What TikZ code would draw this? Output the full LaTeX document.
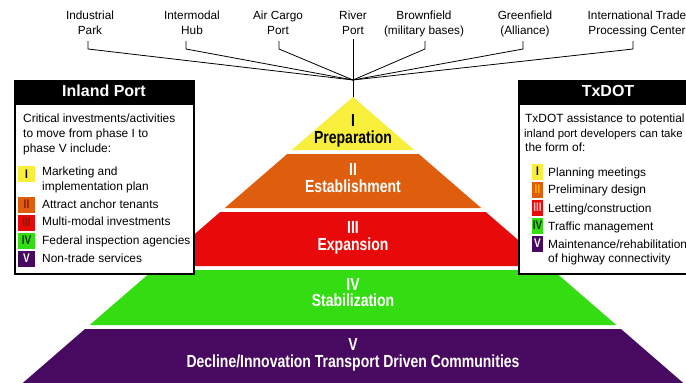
\documentclass[tikz,border=0pt]{standalone}
\usepackage{fontspec}
\setmainfont{Liberation Sans}
\newfontfamily\condbf{Liberation Sans}[FakeStretch=0.8]
\definecolor{pyel}{HTML}{F8EE3C}
\definecolor{pora}{HTML}{DE5E0E}
\definecolor{pred}{HTML}{E80A0A}
\definecolor{pgrn}{HTML}{34DC12}
\definecolor{ppur}{HTML}{480A60}
\definecolor{dkred}{HTML}{8A1800}
\begin{document}
\begin{tikzpicture}[x=1pt,y=-1pt,
  lbl/.style={font=\fontsize{11.8}{14}\selectfont, inner sep=0, anchor=mid},
  body/.style={font=\fontsize{11.9}{14}\selectfont, inner sep=0, anchor=mid west},
  hdr/.style={font=\fontsize{16}{18}\selectfont\bfseries, text=white, inner sep=0, anchor=mid},
  lvl/.style={font=\condbf\bfseries\fontsize{17.5}{19}\selectfont, inner sep=0, anchor=mid, text=white},
  ibadge/.style={minimum width=17pt, minimum height=16pt, inner sep=0, font=\condbf\bfseries\fontsize{12.5}{13}\selectfont},
  tbadge/.style={minimum width=11pt, minimum height=16pt, inner sep=0, font=\condbf\bfseries\fontsize{12.5}{13}\selectfont},
  conn/.style={draw=black, line width=0.8pt},
  boxframe/.style={draw=black, line width=1.5pt, fill=white, inner sep=0, anchor=north west},
  boxhead/.style={fill=black, inner sep=0, anchor=north west}
]
\useasboundingbox (0,0) rectangle (686,383);
\fill[white] (0,0) rectangle (686,383);
\clip (0,0) rectangle (686,383);

% pyramid layers
\fill[pyel] (353,97) -- (414.2,150) -- (291.8,150) -- cycle;
\fill[pora] (287.2,154) -- (418.8,154) -- (481.2,208) -- (224.8,208) -- cycle;
\fill[pred] (220.2,212) -- (485.8,212) -- (548.2,266) -- (157.8,266) -- cycle;
\fill[pgrn] (153.2,270) -- (552.8,270) -- (616.3,325) -- (89.7,325) -- cycle;
\fill[ppur] (85,329) -- (621,329) -- (683.3,383) -- (22.7,383) -- cycle;

\node[lvl, text=black] (l1a) at (353,124) {I};
\node[lvl, text=black] (l1b) at (353,141) {Preparation};
\node[lvl] (l2a) at (353,173) {II};
\node[lvl] (l2b) at (353,189.5) {Establishment};
\node[lvl] (l3a) at (353,231) {III};
\node[lvl] (l3b) at (353,248) {Expansion};
\node[lvl] (l4a) at (353,288) {IV};
\node[lvl] (l4b) at (353,304) {Stabilization};
\node[lvl] (l5a) at (353,348) {V};
\node[lvl] (l5b) at (353,365) {Decline/Innovation Transport Driven Communities};

% top labels
\node[lbl] (ind1) at (90,17) {Industrial};
\node[lbl] (ind2) at (90,32) {Park};
\node[lbl] (hub1) at (192,17) {Intermodal};
\node[lbl] (hub2) at (192,32) {Hub};
\node[lbl] (air1) at (278,17) {Air Cargo};
\node[lbl] (air2) at (278,32) {Port};
\node[lbl] (riv1) at (353,17) {River};
\node[lbl] (riv2) at (353,32) {Port};
\node[lbl] (brn1) at (424,17) {Brownfield};
\node[lbl] (brn2) at (424,32) {(military bases)};
\node[lbl] (grn1) at (525,17) {Greenfield};
\node[lbl] (grn2) at (525,32) {(Alliance)};
\node[lbl] (itp1) at (637,17) {International Trade};
\node[lbl] (itp2) at (637,32) {Processing Center};

\coordinate (meet) at (353,80);
\coordinate (apex) at (353,97);
\coordinate (tk1) at (88,41);
\coordinate (tk2) at (186,41);
\coordinate (tk3) at (279,41);
\coordinate (tk4) at (353,39);
\coordinate (tk5) at (425,41);
\coordinate (tk6) at (523,41);
\coordinate (tk7) at (633,41);
\draw[conn] (tk1) -- ++(0,8) -- (meet);
\draw[conn] (tk2) -- ++(0,8) -- (meet);
\draw[conn] (tk3) -- ++(0,8) -- (meet);
\draw[conn] (tk4) -- (apex);
\draw[conn] (tk5) -- ++(0,8) -- (meet);
\draw[conn] (tk6) -- ++(0,8) -- (meet);
\draw[conn] (tk7) -- ++(0,8) -- (meet);

% Inland Port box
\node[boxframe, minimum width=179pt, minimum height=193pt] (ipbox) at (14,80) {};
\node[boxhead, minimum width=179pt, minimum height=25pt] (iphead) at (14,80) {};
\node[hdr] (iptitle) at (104,93.5) {Inland Port};
\node[body] (ipt1) at (23,120) {Critical investments/activities};
\node[body] (ipt2) at (23,135) {to move from phase I to};
\node[body] (ipt3) at (23,150) {phase V include:};
\node[ibadge, fill=pyel, text=black] (ipb1) at (26.5,174) {I};
\node[ibadge, fill=pora, text=dkred] (ipb2) at (26.5,204.5) {II};
\node[ibadge, fill=pred, text=dkred] (ipb3) at (26.5,222.5) {III};
\node[ibadge, fill=pgrn, text=black!80!green] (ipb4) at (26.5,240.5) {IV};
\node[ibadge, fill=ppur, text=white] (ipb5) at (26.5,258.5) {V};
\node[body] (ipi1a) at (42,173) {Marketing and};
\node[body] (ipi1b) at (42,188) {implementation plan};
\node[body] (ipi2) at (42,206) {Attract anchor tenants};
\node[body] (ipi3) at (42,223) {Multi-modal investments};
\node[body] (ipi4) at (42,242) {Federal inspection agencies};
\node[body] (ipi5) at (42,260) {Non-trade services};

% TxDOT box
\node[boxframe, minimum width=182pt, minimum height=193pt] (txbox) at (518,80) {};
\node[boxhead, minimum width=182pt, minimum height=25pt] (txhead) at (518,80) {};
\node[hdr] (txtitle) at (608,93.5) {TxDOT};
\node[body] (txt1) at (525,120) {TxDOT assistance to potential};
\node[body, font=\fontsize{11.4}{14}\selectfont] (txt2) at (524,135) {inland port developers can take};
\node[body] (txt3) at (525,149) {the form of:};
\node[tbadge, fill=pyel, text=black] (txb1) at (537.5,171.5) {I};
\node[tbadge, fill=pora, text=orange!60!yellow] (txb2) at (537.5,189.5) {II};
\node[tbadge, fill=pred, text=pink] (txb3) at (537.5,207.5) {III};
\node[tbadge, fill=pgrn, text=black!80!green] (txb4) at (537.5,225.5) {IV};
\node[tbadge, fill=ppur, text=white] (txb5) at (537.5,243.5) {V};
\node[body] (txi1) at (548,174) {Planning meetings};
\node[body] (txi2) at (548,191) {Preliminary design};
\node[body] (txi3) at (548,210) {Letting/construction};
\node[body] (txi4) at (548,228) {Traffic management};
\node[body] (txi5a) at (548,246) {Maintenance/rehabilitation};
\node[body] (txi5b) at (548,260) {of highway connectivity};
\end{tikzpicture}
\end{document}
